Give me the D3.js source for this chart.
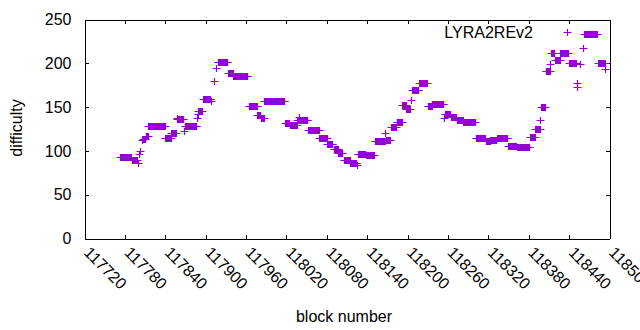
<!DOCTYPE html>
<html>
<head>
<meta charset="utf-8">
<script src="https://cdn.jsdelivr.net/npm/d3@7"></script>
<style>
  body { margin: 0; background: #fff; }
  text { font-family: "Liberation Sans", Arial, sans-serif; font-size: 16px; fill: #000; }
</style>
</head>
<body>
<script>
// difficulty is constant over runs of consecutive blocks
const runStart = [
  117773, 117790, 117799, 117801, 117802, 117806, 117807, 117811, 117815, 117840,
  117849, 117857, 117858, 117868, 117869, 117887, 117888, 117889, 117896, 117908,
  117913, 117915, 117918, 117933, 117941, 117964, 117977, 117982, 117987, 118018,
  118025, 118036, 118038, 118039, 118052, 118069, 118081, 118090, 118097, 118105,
  118115, 118125, 118126, 118138, 118151, 118167, 118168, 118176, 118184, 118192,
  118198, 118205, 118207, 118217, 118230, 118237, 118254, 118255, 118264, 118273,
  118283, 118301, 118316, 118323, 118333, 118349, 118362, 118382, 118390, 118397,
  118398, 118405, 118412, 118413, 118419, 118427, 118440, 118451, 118452, 118456,
  118460, 118462, 118483, 118494
];
const runEnd = [
  117789, 117798, 117799, 117801, 117802, 117806, 117810, 117814, 117839, 117848,
  117856, 117857, 117867, 117868, 117886, 117887, 117888, 117894, 117907, 117908,
  117913, 117915, 117932, 117940, 117962, 117976, 117981, 117986, 118017, 118024,
  118035, 118037, 118038, 118051, 118068, 118080, 118088, 118096, 118103, 118114,
  118124, 118125, 118137, 118150, 118166, 118167, 118174, 118183, 118191, 118197,
  118203, 118205, 118216, 118229, 118236, 118253, 118254, 118263, 118272, 118282,
  118300, 118315, 118322, 118332, 118348, 118361, 118381, 118389, 118396, 118397,
  118404, 118411, 118412, 118418, 118426, 118438, 118450, 118451, 118452, 118456,
  118460, 118481, 118493, 118494
];
const runDifficulty = [
  93, 90, 86, 97, 100, 112, 114, 117, 128, 115,
  121, 138, 136, 123, 128, 137, 142, 146, 159, 157,
  180, 195, 201, 189, 186, 151, 141, 138, 157, 132,
  129, 135, 139, 135, 124, 115, 108, 102, 98, 90,
  86, 84, 96, 95, 111, 120, 113, 127, 133, 152,
  148, 158, 170, 177, 151, 153, 137, 142, 139, 135,
  133, 115, 111, 112, 115, 106, 105, 116, 125, 135,
  150, 191, 199, 212, 204, 212, 200, 173, 178, 199,
  218, 234, 200, 194
];
const xTicks = [117720, 117780, 117840, 117900, 117960, 118020, 118080, 118140,
                118200, 118260, 118320, 118380, 118440, 118500];
const yTicks = [0, 50, 100, 150, 200, 250];
const seriesName = "LYRA2REv2";

const points = [];
runStart.forEach((s, i) => {
  for (let b = s; b <= runEnd[i]; b++) points.push({ block: b, difficulty: runDifficulty[i] });
});

const width = 640, height = 330;
const margin = { top: 19.5, right: 30.5, bottom: 91.5, left: 84.5 };
const color = "#9400d3";

const svg = d3.select("body").append("svg")
  .attr("width", width)
  .attr("height", height);

const x = d3.scaleLinear()
  .domain([117720, 118500])
  .range([margin.left, width - margin.right]);
const y = d3.scaleLinear()
  .domain([0, 250])
  .range([height - margin.bottom, margin.top]);

// axes, ticks pointing inward, mirrored on top/right
const gx = svg.append("g")
  .attr("transform", `translate(0,${height - margin.bottom})`)
  .call(d3.axisBottom(x).tickValues(xTicks).tickSizeInner(-4).tickSizeOuter(0).tickFormat(d3.format("d")));
gx.selectAll("text")
  .attr("x", 0).attr("y", 0).attr("dy", null)
  .attr("text-anchor", "start")
  .attr("dominant-baseline", "middle")
  .attr("transform", "translate(1,12) rotate(45)");

svg.append("g")
  .attr("transform", `translate(0,${margin.top})`)
  .call(d3.axisTop(x).tickValues(xTicks).tickSizeInner(-4).tickSizeOuter(0).tickFormat(""));

svg.append("g")
  .attr("transform", `translate(${margin.left},0)`)
  .call(d3.axisLeft(y).tickValues(yTicks).tickSizeInner(-4).tickSizeOuter(0).tickPadding(13));

svg.append("g")
  .attr("transform", `translate(${width - margin.right},0)`)
  .call(d3.axisRight(y).tickValues(yTicks).tickSizeInner(-4).tickSizeOuter(0).tickFormat(""));

svg.selectAll(".domain, .tick line").attr("stroke", "#000").attr("shape-rendering", "crispEdges");
svg.selectAll(".tick text").style("font-size", "16px").style("font-family", '"Liberation Sans", Arial, sans-serif');

// point markers (+)
const plus = "M-4,0H4M0,-3.5V3.5";
svg.append("g")
  .attr("stroke", color)
  .attr("stroke-width", 1.2)
  .attr("fill", "none")
  .selectAll("path")
  .data(points)
  .join("path")
  .attr("d", plus)
  .attr("transform", d => `translate(${Math.round(x(d.block)) + 0.5},${Math.round(y(d.difficulty)) + 0.5})`);

// legend
svg.append("text")
  .attr("x", 533)
  .attr("y", 38)
  .attr("text-anchor", "end")
  .text(seriesName);
svg.append("path")
  .attr("d", plus)
  .attr("stroke", color)
  .attr("stroke-width", 1.2)
  .attr("transform", "translate(567.5,32.5)");

// axis titles
svg.append("text")
  .attr("transform", "translate(22,128) rotate(-90)")
  .attr("text-anchor", "middle")
  .text("difficulty");
svg.append("text")
  .attr("x", 344)
  .attr("y", 322)
  .attr("text-anchor", "middle")
  .text("block number");
</script>
</body>
</html>
